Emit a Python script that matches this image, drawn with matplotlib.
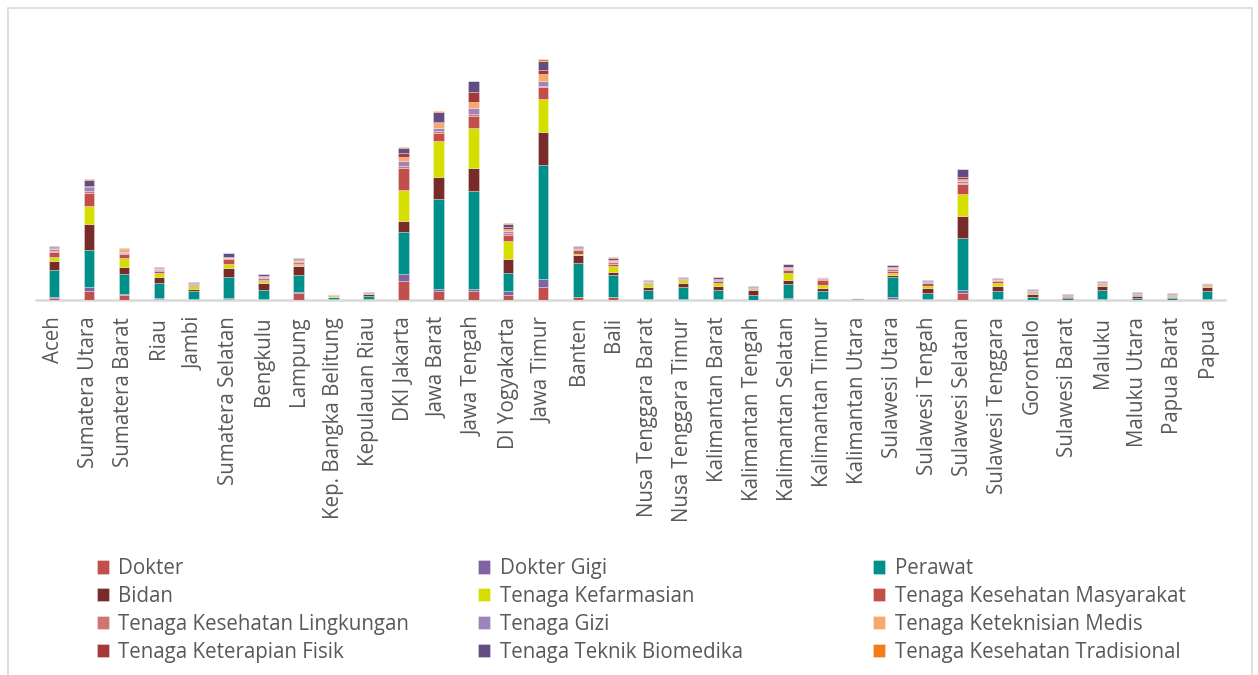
import matplotlib
matplotlib.use("Agg")
import matplotlib.pyplot as plt
import matplotlib.patches as mpatches
import numpy as np

plt.rcParams['font.family'] = ['Open Sans', 'DejaVu Sans']

# data: jumlah tenaga kesehatan per provinsi (estimasi dari gambar)
provinsi = ["Aceh", "Sumatera Utara", "Sumatera Barat", "Riau", "Jambi",
            "Sumatera Selatan", "Bengkulu", "Lampung", "Kep. Bangka Belitung",
            "Kepulauan Riau", "DKI Jakarta", "Jawa Barat", "Jawa Tengah",
            "DI Yogyakarta", "Jawa Timur", "Banten", "Bali",
            "Nusa Tenggara Barat", "Nusa Tenggara Timur", "Kalimantan Barat",
            "Kalimantan Tengah", "Kalimantan Selatan", "Kalimantan Timur",
            "Kalimantan Utara", "Sulawesi Utara", "Sulawesi Tengah",
            "Sulawesi Selatan", "Sulawesi Tenggara", "Gorontalo",
            "Sulawesi Barat", "Maluku", "Maluku Utara", "Papua Barat", "Papua"]

dokter = [170, 930, 470, 130, 70, 100, 70, 700, 30, 50, 1870, 870, 870, 500, 1330, 300, 300,
          70, 30, 70, 30, 130, 30, 40, 130, 70, 670, 30, 20, 10, 30, 20, 20, 30]
dokter_gigi = [130, 330, 130, 70, 30, 50, 30, 50, 20, 30, 730, 200, 200, 370, 730, 40, 40,
               20, 20, 20, 10, 100, 20, 10, 130, 20, 330, 20, 10, 10, 20, 10, 10, 20]
perawat = [2670, 3700, 1970, 1470, 800, 2100, 900, 1770, 200, 350, 4230, 9070, 9800, 1870, 11430, 3370, 2130,
           900, 1270, 900, 470, 1400, 870, 80, 2030, 630, 5170, 870, 300, 170, 930, 170, 130, 830]
bidan = [970, 2670, 770, 630, 230, 900, 670, 830, 50, 180, 1070, 2170, 2370, 1400, 3330, 770, 300,
         270, 330, 370, 470, 400, 270, 20, 230, 430, 2230, 470, 230, 100, 370, 170, 170, 370]
kefarmasian = [370, 1770, 870, 430, 270, 400, 270, 130, 100, 40, 3100, 3600, 4000, 1770, 3230, 130, 600,
               300, 300, 300, 130, 700, 270, 10, 170, 270, 2170, 270, 130, 30, 100, 30, 30, 130]
kesmas = [470, 1330, 370, 200, 130, 500, 100, 100, 50, 30, 2200, 830, 1200, 570, 1200, 370, 230,
          130, 130, 200, 80, 270, 530, 20, 230, 230, 1030, 200, 100, 100, 130, 130, 100, 130]
kesling = [130, 130, 130, 100, 60, 130, 170, 200, 40, 20, 200, 130, 170, 170, 130, 100, 170,
           70, 40, 130, 50, 130, 130, 30, 170, 120, 130, 90, 100, 40, 100, 80, 70, 70]
gizi = [200, 400, 50, 100, 60, 50, 130, 80, 40, 20, 500, 370, 630, 230, 530, 100, 130,
        70, 60, 100, 30, 50, 100, 10, 130, 100, 200, 80, 100, 50, 100, 80, 70, 70]
keteknisian = [100, 70, 230, 50, 30, 50, 30, 170, 20, 10, 430, 430, 530, 230, 670, 40, 50,
               20, 20, 20, 10, 130, 30, 0, 30, 20, 170, 20, 20, 10, 20, 20, 10, 20]
fisik = [100, 100, 70, 40, 20, 40, 30, 30, 10, 10, 370, 170, 1070, 230, 370, 30, 30,
         20, 20, 20, 10, 30, 20, 0, 30, 20, 170, 20, 10, 10, 20, 10, 10, 10]
biomedika = [100, 600, 70, 50, 50, 330, 170, 90, 30, 30, 530, 1000, 1070, 300, 900, 130, 200,
             100, 70, 130, 100, 230, 50, 10, 170, 50, 830, 100, 30, 40, 50, 50, 50, 50]
tradisional = [30, 30, 20, 10, 10, 10, 10, 10, 0, 0, 50, 50, 30, 30, 200, 10, 100,
               10, 10, 10, 0, 10, 0, 0, 10, 10, 30, 0, 0, 0, 0, 0, 0, 0]

kategori = ["Dokter", "Dokter Gigi", "Perawat", "Bidan", "Tenaga Kefarmasian",
            "Tenaga Kesehatan Masyarakat", "Tenaga Kesehatan Lingkungan", "Tenaga Gizi",
            "Tenaga Keteknisian Medis", "Tenaga Keterapian Fisik", "Tenaga Teknik Biomedika",
            "Tenaga Kesehatan Tradisional"]
seri = [dokter, dokter_gigi, perawat, bidan, kefarmasian, kesmas, kesling, gizi,
        keteknisian, fisik, biomedika, tradisional]
warna = ["#C0504D", "#8064A2", "#00908A", "#772C2A", "#D4DF00", "#C24F4B",
         "#D07470", "#9C85B8", "#F8A86A", "#A5393A", "#634C82", "#F47B16"]

fig = plt.figure(figsize=(12.58, 6.75), dpi=100)
ax = fig.add_axes([0.029, 0.5556, 0.9444, 0.4148])

x = np.arange(len(provinsi))
bawah = np.zeros(len(provinsi))
bars = []
for nilai, nama, c in zip(seri, kategori, warna):
    b = ax.bar(x, nilai, 0.3, bottom=bawah, color=c, label=nama,
               edgecolor=(1, 1, 1, 0.35), linewidth=0.6, zorder=3)
    bars.append(b)
    bawah += np.array(nilai)

ax.set_xlim(-0.5, len(provinsi) - 0.5)
ax.set_ylim(0, 28000)
ax.set_yticks([])
ax.set_xticks(x)
ax.set_xticklabels(provinsi, rotation=90, fontsize=14.8, color="#595959")
ax.tick_params(axis='x', length=0, pad=12)
for s in ['top', 'left', 'right']:
    ax.spines[s].set_visible(False)
ax.spines['bottom'].set_color("#D9D9D9")
ax.spines['bottom'].set_linewidth(1.8)

# legenda tiga kolom
kolom_x = [0.077, 0.380, 0.694]
for k in range(3):
    idx = [k, k + 3, k + 6, k + 9]
    fig.legend([bars[i] for i in idx], [kategori[i] for i in idx],
               loc='upper left', bbox_to_anchor=(kolom_x[k], 0.173),
               frameon=False, fontsize=14.8, labelcolor="#595959",
               handlelength=0.6, handleheight=0.6, handletextpad=0.45,
               labelspacing=0.33, borderpad=0, borderaxespad=0)

# bingkai chart
fig.patches.append(mpatches.Rectangle((0.006, -0.05), 0.989, 1.038,
                                      transform=fig.transFigure, fill=False,
                                      edgecolor="#D9D9D9", linewidth=1.2))

fig.savefig("out.png", dpi=100)
